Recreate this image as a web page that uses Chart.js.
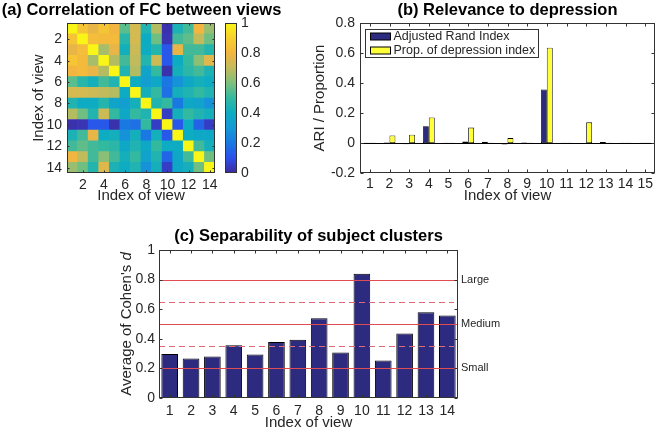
<!DOCTYPE html>
<html><head><meta charset="utf-8">
<script src="https://cdn.jsdelivr.net/npm/chart.js@4"></script>
<style>
html,body{margin:0;padding:0;background:#fff;}
body{width:660px;height:430px;position:relative;overflow:hidden;}
.box{position:absolute;}
</style></head><body>
<div class="box" style="left:0;top:0;width:283px;height:215px"><canvas id="heat"></canvas></div>
<div class="box" style="left:215px;top:0;width:70px;height:215px"><canvas id="cbar"></canvas></div>
<div class="box" style="left:290px;top:0;width:370px;height:215px"><canvas id="relev"></canvas></div>
<div class="box" style="left:100px;top:218px;width:417px;height:212px"><canvas id="sep"></canvas></div>
<script>
// ---------------- data ----------------
const viewLabels14 = ['1','2','3','4','5','6','7','8','9','10','11','12','13','14'];
const viewLabels15 = ['1','2','3','4','5','6','7','8','9','10','11','12','13','14','15'];
const heatTickValues = [2,4,6,8,10,12,14];
const colorbarTickStep = 0.2;
const corrMatrix = [
  [1.00,0.86,0.78,0.86,0.80,0.55,0.74,0.45,0.68,0.02,0.44,0.52,0.80,0.64],
  [0.86,1.00,0.83,0.82,0.82,0.47,0.74,0.40,0.58,0.03,0.52,0.56,0.70,0.58],
  [0.78,0.83,1.00,0.66,0.78,0.42,0.72,0.40,0.46,0.12,0.78,0.52,0.52,0.46],
  [0.86,0.82,0.66,1.00,0.68,0.52,0.70,0.46,0.72,0.12,0.40,0.50,0.62,0.76],
  [0.80,0.82,0.78,0.68,1.00,0.45,0.68,0.36,0.50,0.02,0.42,0.48,0.52,0.44],
  [0.55,0.47,0.42,0.52,0.45,1.00,0.40,0.33,0.38,0.20,0.28,0.38,0.42,0.40],
  [0.74,0.74,0.72,0.70,0.68,0.40,1.00,0.42,0.50,0.18,0.42,0.45,0.50,0.45],
  [0.45,0.40,0.40,0.46,0.36,0.33,0.42,1.00,0.45,0.50,0.20,0.38,0.35,0.28],
  [0.68,0.58,0.46,0.72,0.50,0.38,0.50,0.45,1.00,0.05,0.42,0.50,0.45,0.42],
  [0.02,0.03,0.12,0.12,0.02,0.20,0.18,0.50,0.05,1.00,0.12,0.40,0.15,0.05],
  [0.44,0.52,0.78,0.40,0.42,0.28,0.42,0.20,0.42,0.12,1.00,0.40,0.38,0.38],
  [0.52,0.56,0.52,0.50,0.48,0.38,0.45,0.38,0.50,0.40,0.40,1.00,0.52,0.42],
  [0.80,0.70,0.52,0.62,0.52,0.42,0.50,0.35,0.45,0.15,0.38,0.52,1.00,0.58],
  [0.64,0.58,0.46,0.76,0.44,0.40,0.45,0.28,0.42,0.05,0.38,0.42,0.58,1.00]
];
const parulaStops = ['#3e2a9c','#2c50ec','#1a78e2','#1499d6','#0dacc2','#33b9a0','#7ec07c','#c2bb5c','#f2b540','#f7d02e','#f9f516'];

const ariValues  = [0.002,0.004,-0.008,0.112,0.002,0.010,0.008,-0.010,0.004,0.357,0.002,-0.006,0.007,0.002,0.002];
const propValues = [0.002,0.050,0.055,0.170,0.002,0.103,0.002,0.033,0.002,0.636,0.002,0.138,0.002,0.002,0.002];

const cohenD = [0.297,0.267,0.281,0.357,0.294,0.378,0.393,0.539,0.308,0.840,0.254,0.436,0.580,0.557];
const effectLines = [0.2,0.5,0.8];
const effectLabels = ['Small','Medium','Large'];
const effectDashed = [0.35,0.65];
const cohenTitleParts = [{text:"Average of Cohen's ", italic:false},{text:'d', italic:true}];

// ---------------- helpers ----------------
const FAMILY = "'Liberation Sans', Arial, Helvetica, sans-serif";
Chart.defaults.font.family = FAMILY;
Chart.defaults.color = '#262626';
Chart.defaults.animation = false;
Chart.defaults.plugins.tooltip.enabled = false;
Chart.defaults.plugins.legend.display = false;

function hexToRgb(h){const n=parseInt(h.slice(1),16);return [(n>>16)&255,(n>>8)&255,n&255];}
function parula(v){
  v=Math.max(0,Math.min(1,v));
  const n=parulaStops.length-1, p=v*n, i=Math.min(Math.floor(p),n-1), t=p-i;
  const a=hexToRgb(parulaStops[i]), b=hexToRgb(parulaStops[i+1]);
  return 'rgb('+a.map((c,k)=>Math.round(c+(b[k]-c)*t)).join(',')+')';
}
const fmtNum = v => String(Math.round(v*10)/10);

// ---------------- plugins ----------------
const refLinePlugin = {
  id:'refLines', defaults:{solid:null},
  afterDatasetsDraw(chart,args,o){
    if(!o.solid) return;
    const {ctx, chartArea:a} = chart; const ys = chart.scales.y;
    ctx.save(); ctx.lineWidth=1;
    ctx.strokeStyle=o.color;
    o.solid.forEach(v=>{const y=Math.round(ys.getPixelForValue(v))+0.5;ctx.beginPath();ctx.moveTo(a.left,y);ctx.lineTo(a.right,y);ctx.stroke();});
    ctx.strokeStyle=o.dashColor; ctx.setLineDash([6,4]);
    o.dashed.forEach(v=>{const y=Math.round(ys.getPixelForValue(v))+0.5;ctx.beginPath();ctx.moveTo(a.left,y);ctx.lineTo(a.right-4,y);ctx.stroke();});
    ctx.setLineDash([]);
    ctx.fillStyle='#262626'; ctx.font=o.fontSize+'px '+FAMILY; ctx.textBaseline='middle'; ctx.textAlign='left';
    o.solid.forEach((v,i)=>ctx.fillText(o.labels[i], a.right+3, ys.getPixelForValue(v)));
    ctx.restore();
  }
};
const framePlugin = {
  id:'frame', defaults:{enabled:false, ticks:false, tickLen:3, baseline:null},
  afterDatasetsDraw(chart,args,o){
    if(!o.enabled || o.baseline===null || o.baseline===undefined) return;
    const {ctx, chartArea:a} = chart;
    const y=Math.round(chart.scales.y.getPixelForValue(o.baseline))+0.5;
    ctx.save(); ctx.strokeStyle='#000'; ctx.lineWidth=1;
    ctx.beginPath(); ctx.moveTo(a.left,y); ctx.lineTo(a.right,y); ctx.stroke(); ctx.restore();
  },
  afterDraw(chart,args,o){
    if(!o.enabled) return;
    const {ctx, chartArea:a} = chart;
    const L=Math.round(a.left)+0.5, T=Math.round(a.top)+0.5, R=Math.round(a.right)-0.5, B=Math.round(a.bottom)-0.5;
    ctx.save(); ctx.strokeStyle='#333'; ctx.lineWidth=1;
    if(o.ticks){
      const xs=chart.scales.x, ys=chart.scales.y, n=o.tickLen;
      ctx.beginPath();
      xs.ticks.forEach((t,i)=>{const p=Math.round(xs.getPixelForTick(i))+0.5; ctx.moveTo(p,B); ctx.lineTo(p,B-n); ctx.moveTo(p,T); ctx.lineTo(p,T+n);});
      ys.ticks.forEach((t,i)=>{const p=Math.round(ys.getPixelForTick(i))+0.5; ctx.moveTo(L,p); ctx.lineTo(L+n,p); ctx.moveTo(R,p); ctx.lineTo(R-n,p);});
      ctx.stroke();
    }
    ctx.strokeRect(L,T,R-L,B-T);
    ctx.restore();
  }
};
const boxLegendPlugin = {
  id:'boxLegend', defaults:{enabled:false},
  afterDraw(chart,args,o){
    if(!o.enabled) return;
    const {ctx, chartArea:a} = chart; const ds = chart.data.datasets;
    ctx.save();
    ctx.font = o.fontSize+'px '+FAMILY;
    const tw = Math.max(...ds.map(d=>ctx.measureText(d.label).width));
    const x0=Math.round(a.left+o.offsetX)+0.5, y0=Math.round(a.top+o.offsetY)+0.5;
    const w=Math.round(28+tw+3), h=o.rowH*ds.length;
    ctx.fillStyle='#fff'; ctx.fillRect(x0,y0,w,h);
    ctx.strokeStyle='#333'; ctx.lineWidth=1; ctx.strokeRect(x0,y0,w,h);
    ds.forEach((d,i)=>{
      const cy=y0+o.rowH/2+i*o.rowH;
      ctx.fillStyle=d.backgroundColor; ctx.fillRect(x0+5,cy-3.5,20,7);
      ctx.strokeStyle='#000'; ctx.strokeRect(x0+5,cy-3.5,20,7);
      ctx.fillStyle='#262626'; ctx.textBaseline='middle'; ctx.textAlign='left';
      ctx.fillText(d.label,x0+28,cy+0.5);
    });
    ctx.restore();
  }
};
const richYTitlePlugin = {
  id:'richYTitle', defaults:{parts:null},
  afterDraw(chart,args,o){
    if(!o.parts) return;
    const {ctx, chartArea:a} = chart;
    ctx.save();
    const fonts=o.parts.map(p=>(p.italic?'italic ':'')+o.size+'px '+FAMILY);
    let total=0; const widths=o.parts.map((p,i)=>{ctx.font=fonts[i]; const w=ctx.measureText(p.text).width; total+=w; return w;});
    ctx.translate(o.x,(a.top+a.bottom)/2); ctx.rotate(-Math.PI/2);
    ctx.textBaseline='middle'; ctx.textAlign='left'; ctx.fillStyle='#262626';
    let x=-total/2;
    o.parts.forEach((p,i)=>{ctx.font=fonts[i]; ctx.fillText(p.text,x,0); x+=widths[i];});
    ctx.restore();
  }
};
Chart.register(refLinePlugin, framePlugin, boxLegendPlugin, richYTitlePlugin);

const TICKFONT = {size:14};
const AXTITLEFONT = {size:15, lineHeight:1};
const TITLEFONT = {size:16.5, weight:'bold', lineHeight:1.2};
const noGrid = {display:false, drawTicks:false};

// ---------------- (a) heatmap ----------------
const heatData=[], heatColors=[];
corrMatrix.forEach((row,i)=>row.forEach((v,j)=>{heatData.push({x:j+1, y:[i+0.5,i+1.5]}); heatColors.push(parula(v));}));
new Chart(document.getElementById('heat'),{
  type:'bar',
  data:{datasets:[{data:heatData, backgroundColor:heatColors, borderWidth:0, barPercentage:1, categoryPercentage:1, yAxisID:'y'}]},
  options:{
    responsive:true, maintainAspectRatio:false,
    layout:{padding:{top:0,left:0,right:0,bottom:0}},
    plugins:{
      title:{display:true, text:'(a) Correlation of FC between views', font:TITLEFONT, color:'#000', padding:{top:0.5,bottom:2.9}},
      frame:{enabled:true, ticks:true, tickLen:2}
    },
    scales:{
      x:{type:'linear', offset:false, min:0.5, max:14.5, afterBuildTicks:s=>{s.ticks=heatTickValues.map(v=>({value:v}));},
         grid:noGrid, border:{display:false}, ticks:{padding:4, font:TICKFONT, autoSkip:false, maxRotation:0},
         title:{display:true, text:'Index of view', font:AXTITLEFONT, padding:{top:0,bottom:12}},
         afterFit:s=>{s.height=42;}},
      y:{type:'linear', reverse:true, min:0.5, max:14.5, afterBuildTicks:s=>{s.ticks=heatTickValues.map(v=>({value:v}));},
         grid:noGrid, border:{display:false}, ticks:{padding:5, font:TICKFONT, autoSkip:false},
         title:{display:true, text:'Index of view', font:AXTITLEFONT, padding:{top:31.5,bottom:0}},
         afterFit:s=>{s.width=67;}},
      yR:{axis:'y', type:'linear', position:'right', display:true, grid:{display:false,drawTicks:false}, border:{display:false},
          ticks:{display:false}, afterFit:s=>{s.width=68;}}
    }
  }
});

// colorbar
new Chart(document.getElementById('cbar'),{
  type:'bar',
  data:{labels:[''], datasets:[{data:[[0,1]], borderWidth:0, barPercentage:1, categoryPercentage:1, inflateAmount:0,
    backgroundColor:(c)=>{const ch=c.chart, a=ch.chartArea; if(!a) return parulaStops[4];
      const g=ch.ctx.createLinearGradient(0,a.bottom,0,a.top);
      parulaStops.forEach((col,i)=>g.addColorStop(i/(parulaStops.length-1),col)); return g;}}]},
  options:{
    responsive:true, maintainAspectRatio:false,
    layout:{padding:{top:23,left:10,right:0,bottom:42}},
    plugins:{frame:{enabled:true, ticks:false}},
    scales:{
      x:{display:false},
      y:{position:'right', min:0, max:1, grid:noGrid, border:{display:false},
         ticks:{stepSize:colorbarTickStep, padding:4, font:TICKFONT, callback:fmtNum}, afterFit:s=>{s.width=48;}}
    }
  }
});

// ---------------- (b) relevance ----------------
new Chart(document.getElementById('relev'),{
  type:'bar',
  data:{labels:viewLabels15, datasets:[
    {label:'Adjusted Rand Index', data:ariValues, backgroundColor:'#2c2b7f', borderColor:'#000', borderWidth:0.8, borderSkipped:false, categoryPercentage:0.6, barPercentage:1},
    {label:'Prop. of depression index', data:propValues, backgroundColor:'#ffff3a', borderColor:'#000', borderWidth:0.8, borderSkipped:false, categoryPercentage:0.6, barPercentage:1}
  ]},
  options:{
    responsive:true, maintainAspectRatio:false,
    layout:{padding:{top:0,left:0,right:5,bottom:0}},
    plugins:{
      title:{display:true, fullSize:false, text:'(b) Relevance to depression', font:TITLEFONT, color:'#000', padding:{top:0.5,bottom:2.9}},
      frame:{enabled:true, ticks:true, tickLen:3, baseline:0},
      boxLegend:{enabled:true, fontSize:12.5, offsetX:5, offsetY:6, rowH:14}
    },
    scales:{
      x:{grid:noGrid, border:{display:false}, ticks:{padding:3, font:TICKFONT, autoSkip:false, maxRotation:0},
         title:{display:true, text:'Index of view', font:AXTITLEFONT, padding:{top:0,bottom:12}},
         afterFit:s=>{s.height=42;}},
      y:{min:-0.2, max:0.8, grid:noGrid, border:{display:false}, ticks:{stepSize:0.2, padding:5, font:TICKFONT, callback:fmtNum},
         title:{display:true, text:'ARI / Proportion', font:AXTITLEFONT, padding:{top:22.5,bottom:0}},
         afterFit:s=>{s.width=70;}}
    }
  }
});

// ---------------- (c) separability ----------------
new Chart(document.getElementById('sep'),{
  type:'bar',
  data:{labels:viewLabels14, datasets:[
    {label:"Average of Cohen's d", data:cohenD, backgroundColor:'#2c2b7f', borderColor:'#000', borderWidth:1, borderSkipped:false, categoryPercentage:1, barPercentage:0.78}
  ]},
  options:{
    responsive:true, maintainAspectRatio:false,
    layout:{padding:{top:8,left:0,right:0,bottom:0}},
    plugins:{
      title:{display:true, text:'(c) Separability of subject clusters', font:TITLEFONT, color:'#000', padding:{top:1,bottom:3.2}},
      frame:{enabled:true, ticks:true, tickLen:3},
      refLines:{solid:effectLines, dashed:effectDashed, labels:effectLabels, color:'#e04c52', dashColor:'#e06a78', fontSize:11},
      richYTitle:{parts:cohenTitleParts, size:15, x:27}
    },
    scales:{
      x:{grid:noGrid, border:{display:false}, ticks:{padding:5, font:TICKFONT, autoSkip:false, maxRotation:0},
         title:{display:true, text:'Index of view', font:AXTITLEFONT, padding:{top:0,bottom:0}},
         afterFit:s=>{s.height=32;}},
      y:{min:0, max:1, grid:noGrid, border:{display:false}, ticks:{stepSize:0.2, padding:4, font:TICKFONT, callback:fmtNum},
         afterFit:s=>{s.width=59;}},
      yR:{axis:'y', type:'linear', position:'right', display:true, grid:{display:false,drawTicks:false}, border:{display:false},
          ticks:{display:false}, afterFit:s=>{s.width=59;}}
    }
  }
});
</script>
</body></html>
